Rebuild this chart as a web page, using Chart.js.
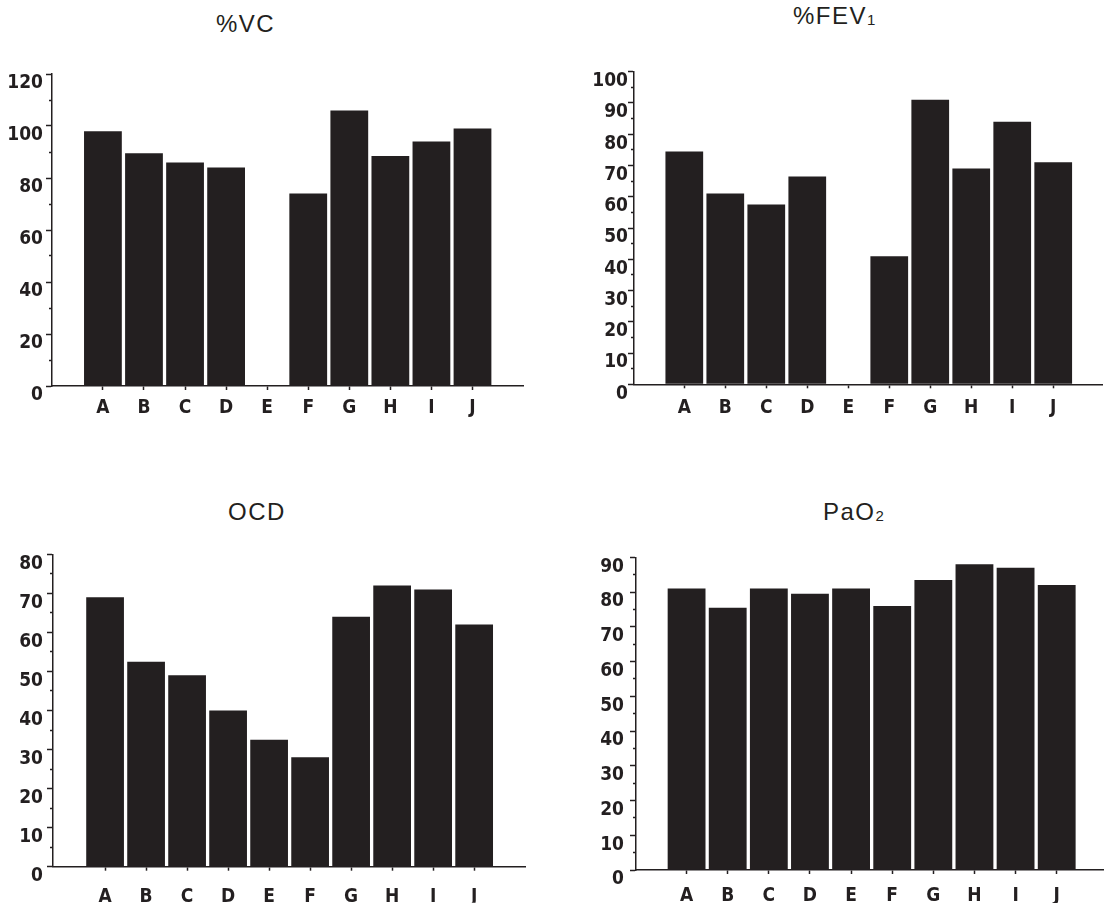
<!DOCTYPE html>
<html>
<head>
<meta charset="utf-8">
<script src="https://cdn.jsdelivr.net/npm/chart.js@4.4.1/dist/chart.umd.min.js"></script>
<style>
body { margin: 0; background: #fff; }
#page { position: relative; width: 1104px; height: 904px; background: #fff; overflow: hidden; }
.title { position: absolute; font-family: 'Liberation Sans', Arial, sans-serif; font-size: 24px; line-height: 24px; letter-spacing: 1.5px; color: #231f20; white-space: nowrap; }
.title span { font-size: 15px; vertical-align: -1px; letter-spacing: 0; }
.box { position: absolute; }
</style>
</head>
<body>
<div id="page">
  <div class="title" style="left:216px; top:12px;">%VC</div>
  <div class="title" style="left:793px; top:4px;">%FEV<span>1</span></div>
  <div class="title" style="left:228px; top:500px;">OCD</div>
  <div class="title" style="left:823px; top:500px;">PaO<span>2</span></div>

  <div class="box" style="left:0; top:60px; width:552px; height:380px;"><canvas id="vcChart"></canvas></div>
  <div class="box" style="left:552px; top:60px; width:552px; height:380px;"><canvas id="fevChart"></canvas></div>
  <div class="box" style="left:0; top:530px; width:552px; height:374px;"><canvas id="ocdChart"></canvas></div>
  <div class="box" style="left:552px; top:530px; width:552px; height:374px;"><canvas id="paoChart"></canvas></div>
</div>

<script>
// data
const categories = ["A", "B", "C", "D", "E", "F", "G", "H", "I", "J"];

const vcValues  = [98, 89.5, 86, 84, null, 74, 106, 88.5, 94, 99];
const fevValues = [74.5, 61, 57.5, 66.5, null, 41, 91, 69, 84, 71];
const ocdValues = [69, 52.5, 49, 40, 32.5, 28, 64, 72, 71, 62];
const paoValues = [81, 75.5, 81, 79.5, 81, 76, 83.5, 88, 87, 82];

const vcTicks  = [0, 20, 40, 60, 80, 100, 120];
const fevTicks = [0, 10, 20, 30, 40, 50, 60, 70, 80, 90, 100];
const ocdTicks = [0, 10, 20, 30, 40, 50, 60, 70, 80];
const paoTicks = [0, 10, 20, 30, 40, 50, 60, 70, 80, 90];

const ink = "#231f20";
const tickFont = { family: "'DejaVu Sans Condensed', 'DejaVu Sans', sans-serif", size: 19, weight: "bold" };

function barChart(id, values, yLabels, minorStep, lay) {
    const yMax = yLabels[yLabels.length - 1];
    return new Chart(document.getElementById(id), {
        type: "bar",
        data: {
            datasets: [{
                data: values.map((v, i) => ({ x: i, y: v })),
                backgroundColor: ink,
                borderWidth: 0,
                barPercentage: 0.92,
                categoryPercentage: 1
            }]
        },
        options: {
            responsive: true,
            maintainAspectRatio: false,
            animation: false,
            layout: { padding: { top: lay.top, right: lay.right, bottom: lay.bottom, left: 0 } },
            plugins: { legend: { display: false }, tooltip: { enabled: false } },
            scales: {
                x: {
                    type: "linear",
                    min: lay.xMin,
                    max: lay.xMax,
                    offset: false,
                    afterBuildTicks: axis => { axis.ticks = categories.map((c, i) => ({ value: i })); },
                    afterFit: s => { s.height = lay.xHeight; },
                    ticks: {
                        callback: v => categories[v],
                        autoSkip: false,
                        maxRotation: 0,
                        padding: lay.xPad,
                        color: ink,
                        font: tickFont
                    },
                    grid: { offset: false, drawOnChartArea: false, tickLength: 4, tickColor: ink, tickWidth: 1.5 },
                    border: { color: ink, width: 1.5 }
                },
                y: {
                    min: 0,
                    max: yMax,
                    afterBuildTicks: axis => {
                        axis.ticks = [];
                        for (let v = 0; v <= yMax; v += minorStep) axis.ticks.push({ value: v });
                    },
                    afterFit: s => { s.width = lay.yWidth; },
                    ticks: {
                        callback: v => yLabels.includes(v) ? String(v) : "",
                        autoSkip: false,
                        align: "start",
                        padding: lay.yPad,
                        color: ink,
                        font: tickFont
                    },
                    grid: {
                        drawOnChartArea: false,
                        tickLength: 6,
                        tickColor: ink,
                        tickWidth: 1.5,
                        tickBorderDash: c => (c.tick && !yLabels.includes(c.tick.value)) ? [0, 3, 3, 50] : []
                    },
                    border: { color: ink, width: 1.5 }
                }
            }
        }
    });
}

barChart("vcChart", vcValues, vcTicks, 10,
    { top: 14, right: 29, bottom: 14, xHeight: 40, yWidth: 52, xMin: -1.24, xMax: 10.23, xPad: 6.5, yPad: 3 });

barChart("fevChart", fevValues, fevTicks, 5,
    { top: 11.7, right: 2, bottom: 15.7, xHeight: 40, yWidth: 82, xMin: -1.227, xMax: 10.19, xPad: 8.5, yPad: 0 });

barChart("ocdChart", ocdValues, ocdTicks, 5,
    { top: 24.3, right: 27, bottom: 1.3, xHeight: 36, yWidth: 53, xMin: -1.27, xMax: 10.24, xPad: 14.5, yPad: 4 });

barChart("paoChart", paoValues, paoTicks, 5,
    { top: 27.3, right: 0, bottom: 1, xHeight: 33, yWidth: 84, xMin: -1.23, xMax: 10.15, xPad: 10.5, yPad: 6 });
</script>
</body>
</html>
